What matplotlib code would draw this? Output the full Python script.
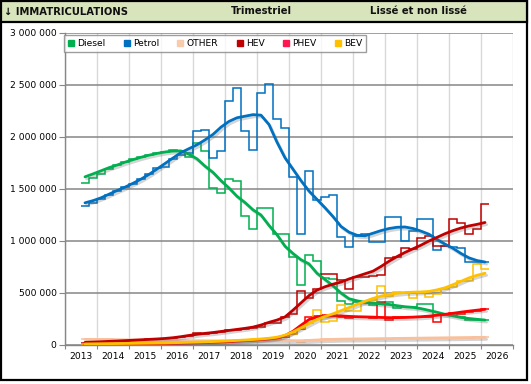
import numpy as np
import matplotlib
matplotlib.use("Agg")
import matplotlib.pyplot as plt
from matplotlib.patches import Rectangle
from matplotlib.lines import Line2D
import matplotlib.patheffects as pe
from matplotlib.ticker import FuncFormatter

# ---------------- data (thousands of registrations, quarterly 2013T3 .. 2026T1) -------------
start_year, start_quarter, n_quarters = 2013, 3, 51
quarters = [f"{start_year + (start_quarter - 1 + i) // 4}T{(start_quarter - 1 + i) % 4 + 1}"
            for i in range(n_quarters)]

series_names = ["Diesel", "Petrol", "OTHER", "HEV", "PHEV", "BEV"]
series_colors = ["#00B050", "#0070C0", "#F9C09C", "#C00000", "#FF0000", "#FFC000"]
legend_colors = ["#00B050", "#0070C0", "#F8CBAD", "#C00000", "#FF1850", "#FFC000"]

diesel_raw = [1553, 1607, 1640, 1694, 1726, 1761, 1784, 1803, 1826, 1842,
              1858, 1871, 1865, 1809, 1938, 1870, 1510, 1457, 1600, 1575,
              1239, 1111, 1313, 1313, 1072, 1072, 850, 577, 868, 803,
              640, 630, 424, 395, 414, 414, 385, 404, 410, 360,
              362, 366, 390, 398, 286, 286, 285, 266, 244, 238, 238]
diesel_smooth = [1617, 1645, 1675, 1705, 1730, 1758, 1782, 1805, 1825, 1842,
                 1856, 1865, 1866, 1835, 1790, 1720, 1660, 1580, 1510, 1430,
                 1370, 1300, 1250, 1150, 1060, 950, 880, 820, 780, 690,
                 630, 570, 500, 445, 425, 410, 402, 395, 390, 378,
                 368, 362, 350, 333, 315, 295, 280, 265, 255, 247, 240]

petrol_raw = [1335, 1367, 1400, 1440, 1478, 1515, 1550, 1595, 1640, 1700,
              1710, 1790, 1830, 1850, 2057, 2066, 1794, 1870, 2350, 2468,
              2055, 1874, 2427, 2506, 2175, 2088, 1611, 1068, 1672, 1395,
              1420, 1441, 1040, 943, 1050, 1070, 991, 988, 1230, 1235,
              1000, 1100, 1215, 1216, 911, 953, 945, 930, 795, 795, 795]
petrol_smooth = [1367, 1388, 1415, 1450, 1485, 1518, 1555, 1595, 1640, 1692,
                 1745, 1798, 1850, 1888, 1925, 1972, 2025, 2095, 2150, 2185,
                 2200, 2215, 2210, 2120, 1950, 1800, 1690, 1580, 1480, 1400,
                 1320, 1235, 1140, 1085, 1055, 1050, 1075, 1100, 1120, 1132,
                 1135, 1120, 1095, 1065, 1015, 970, 930, 880, 838, 812, 798]

other_raw = [55, 55, 54, 53, 52, 50, 48, 47, 46, 45,
             44, 43, 42, 41, 40, 40, 39, 39, 40, 40,
             42, 43, 44, 45, 46, 45, 40, 32, 45, 50,
             55, 55, 56, 57, 58, 58, 60, 60, 62, 63,
             64, 65, 66, 67, 68, 68, 70, 71, 72, 73, 74]
other_smooth = [54, 54, 53, 52, 51, 50, 48, 47, 46, 45,
                44, 43, 42, 41, 41, 40, 40, 40, 40, 41,
                42, 43, 44, 45, 45, 44, 42, 41, 44, 48,
                52, 54, 56, 57, 58, 59, 60, 61, 62, 63,
                64, 65, 66, 67, 68, 69, 70, 71, 72, 73, 74]

hev_raw = [22, 26, 30, 33, 37, 40, 45, 50, 53, 58,
           60, 68, 78, 90, 115, 108, 118, 128, 140, 148,
           155, 165, 173, 212, 212, 265, 300, 520, 450, 540,
           687, 687, 623, 543, 655, 655, 661, 671, 841, 847,
           928, 920, 1030, 1050, 950, 955, 1216, 1170, 1072, 1111, 1354]
hev_smooth = [25, 28, 31, 35, 38, 42, 46, 50, 54, 58,
              63, 70, 80, 92, 103, 112, 120, 130, 140, 150,
              160, 172, 192, 218, 240, 270, 335, 405, 475, 528,
              560, 585, 605, 635, 660, 685, 710, 755, 805, 850,
              890, 925, 960, 1000, 1035, 1070, 1100, 1125, 1145, 1160, 1178]

phev_raw = [5, 6, 7, 8, 8, 9, 10, 11, 12, 13,
            14, 15, 16, 18, 20, 22, 25, 28, 32, 36,
            40, 45, 50, 55, 65, 80, 110, 150, 270, 280,
            285, 275, 265, 258, 270, 272, 255, 410, 240, 270,
            272, 268, 265, 268, 225, 300, 305, 295, 320, 330, 345]
phev_smooth = [5, 6, 7, 8, 8, 9, 10, 11, 12, 13,
               14, 15, 17, 19, 21, 23, 26, 29, 33, 37,
               42, 47, 52, 58, 68, 90, 132, 190, 245, 270,
               278, 280, 280, 275, 272, 270, 268, 265, 263, 263,
               265, 268, 272, 278, 286, 295, 305, 316, 326, 335, 343]

bev_raw = [8, 9, 10, 11, 12, 13, 14, 15, 17, 18,
           19, 21, 23, 25, 28, 30, 32, 35, 38, 42,
           46, 50, 55, 60, 70, 85, 110, 165, 210, 334,
           221, 230, 380, 330, 325, 400, 430, 565, 475, 510,
           500, 450, 497, 460, 490, 540, 560, 615, 620, 775, 726]
bev_smooth = [10, 11, 12, 13, 14, 15, 16, 17, 18, 19,
              20, 22, 24, 26, 28, 30, 33, 36, 40, 44,
              48, 53, 58, 65, 75, 95, 125, 165, 205, 245,
              275, 300, 330, 360, 390, 420, 448, 470, 487, 498,
              505, 508, 510, 515, 530, 550, 580, 612, 645, 670, 690]

year_labels = list(range(2013, 2027))
y_ticks = [0, 500000, 1000000, 1500000, 2000000, 2500000, 3000000]

raw_series = [diesel_raw, petrol_raw, other_raw, hev_raw, phev_raw, bev_raw]
smooth_series = [diesel_smooth, petrol_smooth, other_smooth, hev_smooth, phev_smooth, bev_smooth]

# ---------------- figure ----------------
W, H = 531, 384
fig = plt.figure(figsize=(W / 100, H / 100), dpi=100)
fig.patch.set_facecolor("white")

def fx(px):
    return px / W

def fy(py):
    return 1 - py / H

# outer frame and title bar
fig.add_artist(Rectangle((fx(1), fy(380)), 526 / W, 379 / H, transform=fig.transFigure,
                         fill=False, edgecolor="black", lw=1.6, zorder=0))
fig.add_artist(Rectangle((fx(1), fy(22)), 526 / W, 21 / H, transform=fig.transFigure,
                         facecolor="#D8E4BC", edgecolor="black", lw=1.6, zorder=0))
title_kw = dict(fontsize=7.2, fontweight="bold", va="center", color="#111111")
fig.text(fx(4), fy(11.5), "\u2193 IMMATRICULATIONS", ha="left", **title_kw)
fig.text(fx(261), fy(11.5), "Trimestriel", ha="center", **title_kw)
fig.text(fx(418), fy(11.5), "Lissé et non lissé", ha="center", **title_kw)

ax = fig.add_axes([fx(65), fy(345), (513 - 65) / W, (345 - 33) / H])

# quarter edges / centres from the quarter list
q_pos = np.array([int(q[:4]) + (int(q[-1]) - 1) / 4 for q in quarters])
edges = np.append(q_pos, q_pos[-1] + 0.25)
centers = q_pos + 0.125

for vals, c in zip(raw_series, series_colors):
    ax.stairs(np.array(vals) * 1000, edges, baseline=None, color=c, lw=1.1, zorder=3)

shadow = [pe.SimpleLineShadow(offset=(1.2, -1.5), shadow_color="#666666", alpha=0.28),
          pe.Normal()]
for vals, c in zip(smooth_series, series_colors):
    ax.plot(centers, np.array(vals) * 1000, color=c, lw=2.0, zorder=4,
            solid_capstyle="round", path_effects=shadow)

ax.set_xlim(2013, 2027)
ax.set_ylim(0, 3000000)

ax.set_xticks(range(2013, 2028))
ax.set_xticklabels([])
ax.set_xticks([y + 0.5 for y in year_labels], minor=True)
ax.set_xticklabels([str(y) for y in year_labels], minor=True)
ax.tick_params(axis="x", which="major", length=3, color="#868686", direction="out")
ax.tick_params(axis="x", which="minor", length=0, labelsize=6.6, pad=5)

ax.set_yticks(y_ticks)
ax.yaxis.set_major_formatter(FuncFormatter(lambda v, p: f"{int(v):,}".replace(",", " ")))
ax.tick_params(axis="y", length=4, color="#868686", labelsize=6.6, pad=2)

ax.set_axisbelow(True)
ax.yaxis.grid(True, color="#868686", lw=1.1)
ax.xaxis.grid(True, which="major", color="#D9D9D9", lw=1.0)
for s in ["top", "right"]:
    ax.spines[s].set_visible(False)
for s in ["left", "bottom"]:
    ax.spines[s].set_color("#868686")
    ax.spines[s].set_linewidth(1.0)

handles = [Line2D([], [], marker="s", linestyle="none", color=c, markersize=3.8)
           for c in legend_colors]
leg = ax.legend(handles, series_names, ncol=6, loc="upper left",
                bbox_to_anchor=(fx(64), fy(35)), bbox_transform=fig.transFigure,
                borderaxespad=0, fontsize=6.6, frameon=True, fancybox=False,
                handlelength=0.6, handletextpad=0.4, columnspacing=2.0,
                borderpad=0.45)
leg.get_frame().set_edgecolor("#868686")
leg.get_frame().set_linewidth(1.0)

fig.savefig("out.png", dpi=100)
